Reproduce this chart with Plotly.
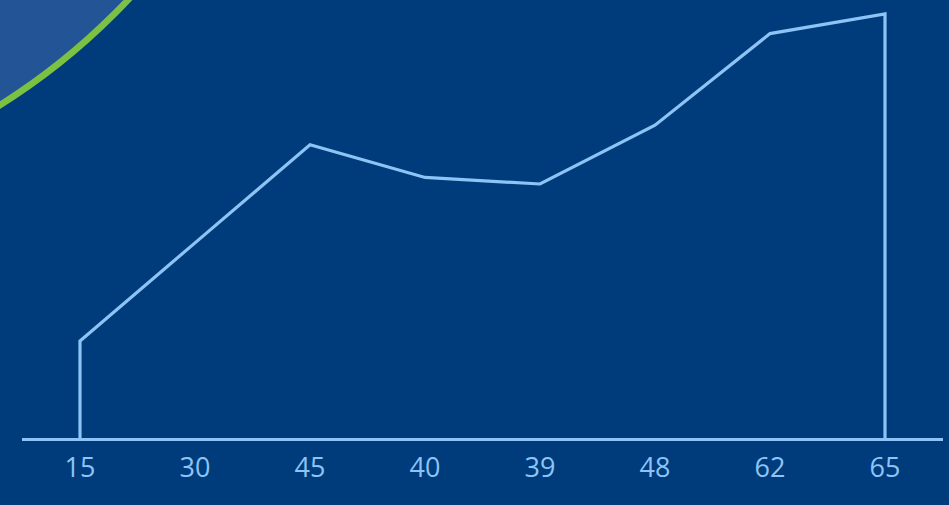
import plotly.graph_objects as go

labels = ["15", "30", "45", "40", "39", "48", "62", "65"]
values = [15, 30, 45, 40, 39, 48, 62, 65]

idx = list(range(len(values)))
xs = [idx[0]] + idx + [idx[-1]]
ys = [0] + values + [0]

BG = "#003c7b"
LINE = "#8dc4f5"

fig = go.Figure()
fig.add_trace(go.Scatter(
    x=xs, y=ys, mode="lines",
    line=dict(color=LINE, width=3.2),
    hoverinfo="skip", showlegend=False,
))

W, H = 949, 505
L, R, T, B = 22, 6, 0, 56
pw = W - L - R
ph = H - T - B

def px2paper_x(px):
    return (px - L) / pw

def px2paper_y(py):
    return (T + ph - py) / ph

cx, cy, r = -348, -450, 655
fig.add_shape(type="circle", xref="paper", yref="paper",
              x0=px2paper_x(cx - r), x1=px2paper_x(cx + r),
              y0=px2paper_y(cy + r), y1=px2paper_y(cy - r),
              fillcolor="#235596", line=dict(color="#7cc242", width=6.5),
              layer="below")

px_per_unit = 425 / 65.0
baseline_py = 439
fig.update_layout(
    width=W, height=H,
    margin=dict(l=L, r=R, t=T, b=B),
    paper_bgcolor=BG, plot_bgcolor=BG,
    xaxis=dict(
        range=[-58 / 115, 863 / 115],
        tickmode="array", tickvals=idx, ticktext=labels,
        showgrid=False, zeroline=False, showline=False, ticks="",
        tickfont=dict(family="Open Sans", size=27, color=LINE),
        fixedrange=True,
    ),
    yaxis=dict(
        range=[-(T + ph - baseline_py) / px_per_unit, baseline_py / px_per_unit],
        showgrid=False, showticklabels=False, ticks="",
        zeroline=True, zerolinecolor=LINE, zerolinewidth=3.2,
        showline=False, fixedrange=True,
    ),
)

post = (
    "document.body.style.margin='0';"
    "document.body.style.padding='0';"
    "document.body.style.overflow='hidden';"
    "document.body.style.background='" + BG + "';"
)

fig.write_html("out.html", post_script=post, config={"displayModeBar": False})
